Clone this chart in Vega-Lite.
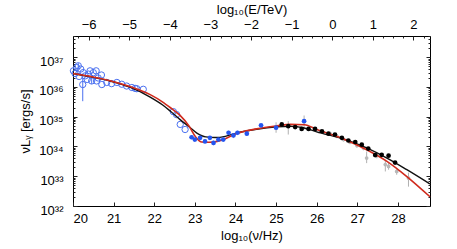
{
  "$schema": "https://vega.github.io/schema/vega-lite/v6.json",
  "width": 357,
  "height": 170,
  "autosize": {"type": "none"},
  "padding": {"left": 73, "top": 36, "right": 27, "bottom": 43},
  "background": "white",
  "config": {
    "view": {"stroke": "#000", "strokeWidth": 1},
    "axis": {
      "labelFont": "Liberation Sans", "titleFont": "Liberation Sans",
      "labelFontSize": 13, "titleFontSize": 13, "labelColor": "#000", "titleColor": "#000",
      "titleFontWeight": "normal", "tickColor": "#222", "tickWidth": 1, "domain": false, "grid": false
    }
  },
  "datasets": {
    "black_model": [
      {"nu": 20.0, "l": 36.45}, {"nu": 20.5, "l": 36.32}, {"nu": 20.91, "l": 36.2}, {"nu": 21.4, "l": 35.99},
      {"nu": 21.9, "l": 35.66}, {"nu": 22.2, "l": 35.4}, {"nu": 22.4, "l": 35.18}, {"nu": 22.63, "l": 34.91},
      {"nu": 22.86, "l": 34.66}, {"nu": 23.05, "l": 34.45}, {"nu": 23.27, "l": 34.32}, {"nu": 23.5, "l": 34.3},
      {"nu": 23.75, "l": 34.34}, {"nu": 24.0, "l": 34.44}, {"nu": 24.52, "l": 34.58}, {"nu": 25.02, "l": 34.66},
      {"nu": 25.35, "l": 34.68}, {"nu": 25.67, "l": 34.63}, {"nu": 26.0, "l": 34.49}, {"nu": 26.66, "l": 34.25},
      {"nu": 27.23, "l": 33.95}, {"nu": 27.73, "l": 33.61}, {"nu": 28.22, "l": 33.22}, {"nu": 28.79, "l": 32.74}
    ],
    "red_model": [
      {"nu": 20.0, "l": 36.45}, {"nu": 20.5, "l": 36.33}, {"nu": 20.91, "l": 36.21}, {"nu": 21.4, "l": 36.01},
      {"nu": 21.9, "l": 35.74}, {"nu": 22.2, "l": 35.5}, {"nu": 22.4, "l": 35.3}, {"nu": 22.63, "l": 35.05},
      {"nu": 22.86, "l": 34.68}, {"nu": 23.02, "l": 34.32}, {"nu": 23.17, "l": 34.15}, {"nu": 23.35, "l": 34.14},
      {"nu": 23.55, "l": 34.17}, {"nu": 23.75, "l": 34.26}, {"nu": 24.0, "l": 34.42}, {"nu": 24.52, "l": 34.59},
      {"nu": 25.02, "l": 34.69}, {"nu": 25.35, "l": 34.74}, {"nu": 25.7, "l": 34.73}, {"nu": 26.0, "l": 34.57},
      {"nu": 26.66, "l": 34.25}, {"nu": 27.23, "l": 33.89}, {"nu": 27.73, "l": 33.5}, {"nu": 28.22, "l": 32.99},
      {"nu": 28.79, "l": 32.31}
    ],
    "open": [
      {"nu": 20.01, "l": 36.54}, {"nu": 20.09, "l": 36.65}, {"nu": 20.13, "l": 36.71}, {"nu": 20.19, "l": 36.6},
      {"nu": 20.25, "l": 36.48}, {"nu": 20.3, "l": 36.37}, {"nu": 20.38, "l": 36.43}, {"nu": 20.42, "l": 36.54},
      {"nu": 20.5, "l": 36.48}, {"nu": 20.57, "l": 36.54}, {"nu": 20.24, "l": 36.08}, {"nu": 20.46, "l": 36.2},
      {"nu": 20.58, "l": 36.2}, {"nu": 20.71, "l": 36.08}, {"nu": 20.83, "l": 36.15}, {"nu": 20.95, "l": 36.11},
      {"nu": 21.08, "l": 36.15}, {"nu": 21.2, "l": 36.09}, {"nu": 21.32, "l": 36.03}, {"nu": 21.45, "l": 35.98},
      {"nu": 21.53, "l": 35.95}, {"nu": 21.57, "l": 35.94}, {"nu": 21.73, "l": 35.92}, {"nu": 20.05, "l": 36.45},
      {"nu": 20.15, "l": 36.35}, {"nu": 20.35, "l": 36.25}, {"nu": 20.62, "l": 36.3}, {"nu": 20.7, "l": 36.4},
      {"nu": 22.47, "l": 35.17}, {"nu": 22.55, "l": 35.07}, {"nu": 22.64, "l": 34.74}, {"nu": 22.76, "l": 34.57}
    ],
    "blue": [
      {"nu": 22.92, "l": 34.31}, {"nu": 23.0, "l": 34.23}, {"nu": 23.13, "l": 34.29}, {"nu": 23.25, "l": 34.17},
      {"nu": 23.37, "l": 34.29}, {"nu": 23.46, "l": 34.12}, {"nu": 23.58, "l": 34.23}, {"nu": 23.7, "l": 34.23},
      {"nu": 23.83, "l": 34.46}, {"nu": 23.95, "l": 34.37}, {"nu": 24.05, "l": 34.46}, {"nu": 24.28, "l": 34.43},
      {"nu": 24.63, "l": 34.71}, {"nu": 25.0, "l": 34.63}, {"nu": 25.69, "l": 34.85}
    ],
    "hess": [
      {"nu": 25.14, "l": 34.74}, {"nu": 25.3, "l": 34.68}, {"nu": 25.47, "l": 34.65}, {"nu": 25.63, "l": 34.59},
      {"nu": 25.8, "l": 34.59}, {"nu": 25.96, "l": 34.59}, {"nu": 26.13, "l": 34.51}, {"nu": 26.29, "l": 34.43},
      {"nu": 26.45, "l": 34.4}, {"nu": 26.62, "l": 34.29}, {"nu": 26.78, "l": 34.2}, {"nu": 26.95, "l": 34.15},
      {"nu": 27.11, "l": 34.06}, {"nu": 27.27, "l": 33.93}, {"nu": 27.44, "l": 33.71}, {"nu": 27.6, "l": 33.72},
      {"nu": 27.77, "l": 33.69}, {"nu": 27.93, "l": 33.46}
    ],
    "grey": [
      {"nu": 25.3, "l": 34.68}, {"nu": 26.33, "l": 34.43}, {"nu": 26.5, "l": 34.34}, {"nu": 26.66, "l": 34.23},
      {"nu": 26.82, "l": 34.14}, {"nu": 26.99, "l": 34.03}, {"nu": 27.15, "l": 33.95}, {"nu": 27.23, "l": 33.61},
      {"nu": 27.48, "l": 33.69}, {"nu": 27.69, "l": 33.39}, {"nu": 27.77, "l": 33.33}, {"nu": 27.97, "l": 33.16},
      {"nu": 28.26, "l": 32.94}
    ],
    "blue_err": [
      {"nu": 20.24, "lo": 35.52, "hi": 36.31}, {"nu": 20.13, "lo": 36.6, "hi": 36.8}, {"nu": 20.46, "lo": 36.1, "hi": 36.3}
    ],
    "grey_err": [
      {"nu": 22.92, "lo": 34.24, "hi": 34.38}, {"nu": 23.25, "lo": 34.1, "hi": 34.25}, {"nu": 23.46, "lo": 34.04, "hi": 34.2},
      {"nu": 23.83, "lo": 34.38, "hi": 34.53}, {"nu": 23.95, "lo": 34.28, "hi": 34.45}, {"nu": 24.05, "lo": 34.38, "hi": 34.53},
      {"nu": 24.28, "lo": 34.35, "hi": 34.51}, {"nu": 25.0, "lo": 34.46, "hi": 34.81}, {"nu": 25.3, "lo": 34.4, "hi": 34.85},
      {"nu": 25.69, "lo": 34.57, "hi": 35.04}, {"nu": 26.33, "lo": 34.38, "hi": 34.49}, {"nu": 26.5, "lo": 34.28, "hi": 34.4},
      {"nu": 26.66, "lo": 34.17, "hi": 34.29}, {"nu": 26.82, "lo": 34.08, "hi": 34.2}, {"nu": 26.99, "lo": 33.96, "hi": 34.1},
      {"nu": 27.15, "lo": 33.87, "hi": 34.03}, {"nu": 27.23, "lo": 33.44, "hi": 33.83}, {"nu": 27.48, "lo": 33.6, "hi": 33.78},
      {"nu": 27.69, "lo": 33.16, "hi": 33.55}, {"nu": 27.77, "lo": 33.22, "hi": 33.44}, {"nu": 27.97, "lo": 33.05, "hi": 33.28},
      {"nu": 28.26, "lo": 32.65, "hi": 33.12}
    ]
  },
  "layer": [
    {
      "data": {"name": "grey_err"},
      "mark": {"type": "rule", "color": "#b0b0b0", "strokeWidth": 1},
      "encoding": {
        "x": {"field": "nu", "type": "quantitative", "scale": {"domain": [20, 28.79], "nice": false, "zero": false},
          "axis": {"orient": "bottom", "values": [20, 21, 22, 23, 24, 25, 26, 27, 28], "format": "d", "tickSize": -4,
            "labelPadding": 10, "title": "log₁₀(ν/Hz)", "titlePadding": 4}},
        "y": {"field": "lo", "type": "quantitative", "scale": {"domain": [32, 37.71], "nice": false, "zero": false},
          "axis": {"orient": "left", "values": [32, 33, 34, 35, 36, 37], "tickSize": -4, "labelPadding": 14,
            "labelExpr": "'10' + ['³²','³³','³⁴','³⁵','³⁶','³⁷'][round(datum.value) - 32]", "labelOffset": 4,
            "title": "νLᵧ [ergs/s]", "titlePadding": 6}},
        "y2": {"field": "hi"}
      }
    },
    {
      "data": {"name": "blue_err"},
      "mark": {"type": "rule", "color": "#4a70f0", "strokeWidth": 1},
      "encoding": {
        "x": {"field": "nu", "type": "quantitative", "scale": {"domain": [20, 28.79], "nice": false, "zero": false},
          "axis": {"orient": "top", "values": [20.383, 21.383, 22.383, 23.383, 24.383, 25.383, 26.383, 27.383, 28.383],
            "labelExpr": "format(round(datum.value - 26.383), 'd')", "tickSize": -4, "labelPadding": 9,
            "title": "log₁₀(E/TeV)", "titlePadding": 2}},
        "y": {"field": "lo", "type": "quantitative", "scale": {"domain": [32, 37.71], "nice": false, "zero": false},
          "axis": {"orient": "right", "values": [32, 33, 34, 35, 36, 37], "tickSize": -4, "labels": false, "title": null}},
        "y2": {"field": "hi"}
      }
    },
    {
      "data": {"name": "grey"},
      "mark": {"type": "point", "filled": true, "color": "#b8b8b8", "size": 14, "opacity": 1},
      "encoding": {
        "x": {"field": "nu", "type": "quantitative", "scale": {"domain": [20, 28.79], "nice": false, "zero": false},
          "axis": {"orient": "top", "values": [20.133, 20.633, 20.883, 21.133, 21.633, 21.883, 22.133, 22.633, 22.883, 23.133, 23.633, 23.883, 24.133, 24.633, 24.883, 25.133, 25.633, 25.883, 26.133, 26.633, 26.883, 27.133, 27.633, 27.883, 28.133, 28.633],
            "tickSize": -2, "labels": false, "title": null}},
        "y": {"field": "l", "type": "quantitative", "scale": {"domain": [32, 37.71], "nice": false, "zero": false},
          "axis": {"orient": "left", "values": [32.301, 32.477, 32.602, 32.699, 32.778, 32.845, 32.903, 32.954, 33.301, 33.477, 33.602, 33.699, 33.778, 33.845, 33.903, 33.954, 34.301, 34.477, 34.602, 34.699, 34.778, 34.845, 34.903, 34.954, 35.301, 35.477, 35.602, 35.699, 35.778, 35.845, 35.903, 35.954, 36.301, 36.477, 36.602, 36.699, 36.778, 36.845, 36.903, 36.954, 37.301, 37.477, 37.602, 37.699],
            "tickSize": -2, "labels": false, "title": null}}
      }
    },
    {
      "data": {"name": "open"},
      "mark": {"type": "point", "filled": false, "color": "#4a70f0", "size": 40, "strokeWidth": 1, "opacity": 1},
      "encoding": {
        "x": {"field": "nu", "type": "quantitative", "scale": {"domain": [20, 28.79], "nice": false, "zero": false}, "axis": null},
        "y": {"field": "l", "type": "quantitative", "scale": {"domain": [32, 37.71], "nice": false, "zero": false},
          "axis": {"orient": "right", "values": [32.301, 32.477, 32.602, 32.699, 32.778, 32.845, 32.903, 32.954, 33.301, 33.477, 33.602, 33.699, 33.778, 33.845, 33.903, 33.954, 34.301, 34.477, 34.602, 34.699, 34.778, 34.845, 34.903, 34.954, 35.301, 35.477, 35.602, 35.699, 35.778, 35.845, 35.903, 35.954, 36.301, 36.477, 36.602, 36.699, 36.778, 36.845, 36.903, 36.954, 37.301, 37.477, 37.602, 37.699],
            "tickSize": -2, "labels": false, "title": null}}
      }
    },
    {
      "data": {"name": "black_model"},
      "mark": {"type": "line", "color": "#111111", "strokeWidth": 1.4, "interpolate": "monotone"},
      "encoding": {
        "x": {"field": "nu", "type": "quantitative", "scale": {"domain": [20, 28.79], "nice": false, "zero": false}, "axis": null},
        "y": {"field": "l", "type": "quantitative", "scale": {"domain": [32, 37.71], "nice": false, "zero": false}, "axis": null}
      }
    },
    {
      "data": {"name": "red_model"},
      "mark": {"type": "line", "color": "#d02a1c", "strokeWidth": 1.6, "interpolate": "monotone"},
      "encoding": {
        "x": {"field": "nu", "type": "quantitative", "scale": {"domain": [20, 28.79], "nice": false, "zero": false}, "axis": null},
        "y": {"field": "l", "type": "quantitative", "scale": {"domain": [32, 37.71], "nice": false, "zero": false}, "axis": null}
      }
    },
    {
      "data": {"name": "blue"},
      "mark": {"type": "circle", "color": "#2455f0", "size": 22, "opacity": 1},
      "encoding": {
        "x": {"field": "nu", "type": "quantitative", "scale": {"domain": [20, 28.79], "nice": false, "zero": false}, "axis": null},
        "y": {"field": "l", "type": "quantitative", "scale": {"domain": [32, 37.71], "nice": false, "zero": false}, "axis": null}
      }
    },
    {
      "data": {"name": "hess"},
      "mark": {"type": "circle", "color": "#000000", "size": 22, "opacity": 1},
      "encoding": {
        "x": {"field": "nu", "type": "quantitative", "scale": {"domain": [20, 28.79], "nice": false, "zero": false}, "axis": null},
        "y": {"field": "l", "type": "quantitative", "scale": {"domain": [32, 37.71], "nice": false, "zero": false}, "axis": null}
      }
    }
  ],
  "resolve": {"axis": {"x": "independent", "y": "independent"}}
}
